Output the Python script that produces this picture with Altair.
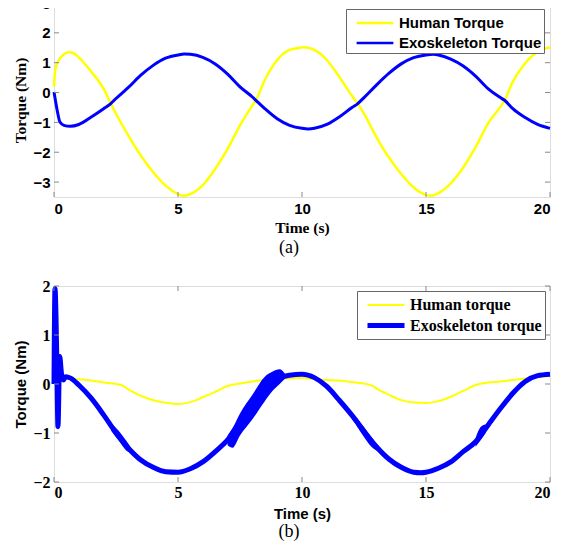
import altair as alt
import pandas as pd

# ---------------- Panel (a) data ----------------
a_human_t = [0, 0.05, 0.2, 0.4, 0.6, 0.8, 1.0, 1.5, 2.0, 2.29, 2.5, 3.0, 3.5, 4.0, 4.5, 5.0, 5.2, 5.5,
             6.0, 6.5, 7.0, 7.5, 8.0, 8.14, 8.5, 9.0, 9.5, 10.0, 10.1, 10.5, 11.0, 11.5, 12.0, 12.25,
             12.5, 13.0, 13.5, 14.0, 14.5, 15.0, 15.2, 15.5, 16.0, 16.5, 17.0, 17.5, 18.0, 18.17,
             18.5, 19.0, 19.5, 20.0]
a_human_v = [0.2, 0.75, 1.1, 1.28, 1.35, 1.31, 1.18, 0.7, 0.13, -0.37, -0.71, -1.44, -2.11, -2.67,
             -3.12, -3.40, -3.46, -3.40, -3.10, -2.56, -1.89, -1.10, -0.43, -0.26, 0.42, 1.09, 1.43,
             1.51, 1.52, 1.43, 1.09, 0.53, -0.09, -0.37, -0.71, -1.49, -2.17, -2.73, -3.18, -3.43,
             -3.46, -3.37, -3.04, -2.51, -1.83, -1.04, -0.48, -0.26, 0.36, 0.98, 1.37, 1.51]

a_exo_t = [0, 0.13, 0.24, 0.4, 0.65, 1.0, 1.5, 2.0, 2.29, 2.5, 3.0, 3.5, 4.0, 4.5, 5.0, 5.25, 5.5,
           6.0, 6.5, 7.0, 7.5, 8.0, 8.14, 8.5, 9.0, 9.5, 10.0, 10.25, 10.5, 11.0, 11.5, 12.0, 12.25,
           12.5, 13.0, 13.5, 14.0, 14.5, 15.0, 15.3, 15.5, 16.0, 16.5, 17.0, 17.5, 18.0, 18.17,
           18.5, 19.0, 19.5, 20.0]
a_exo_v = [0.02, -0.6, -0.99, -1.1, -1.13, -1.07, -0.82, -0.54, -0.37, -0.2, 0.17, 0.58, 0.91, 1.15,
           1.26, 1.29, 1.28, 1.18, 0.96, 0.62, 0.19, -0.15, -0.26, -0.54, -0.88, -1.1, -1.2, -1.22,
           -1.2, -1.07, -0.82, -0.51, -0.37, -0.17, 0.25, 0.64, 0.96, 1.17, 1.26, 1.28, 1.26, 1.12,
           0.89, 0.55, 0.13, -0.17, -0.26, -0.54, -0.84, -1.07, -1.2]

# ---------------- Panel (b) data ----------------
b_human_t = [0, 0.67, 1.0, 1.5, 2.0, 2.5, 2.76, 3.0, 3.5, 4.0, 4.5, 5.0, 5.5, 6.0, 6.5, 7.0, 7.5,
             8.0, 8.5, 9.0, 10.0, 10.5, 11.0, 11.5, 12.0, 12.5, 12.85, 13.0, 13.5, 14.0, 14.5, 15.0,
             15.5, 16.0, 16.5, 17.0, 17.5, 18.0, 18.5, 19.0, 19.5, 20.0]
b_human_v = [0.1, 0.1, 0.095, 0.07, 0.03, 0.0, -0.03, -0.11, -0.24, -0.33, -0.38, -0.41, -0.37,
             -0.27, -0.16, -0.04, 0.01, 0.05, 0.08, 0.1, 0.12, 0.1, 0.08, 0.07, 0.04, 0.01, -0.04,
             -0.09, -0.22, -0.33, -0.38, -0.39, -0.35, -0.26, -0.14, -0.02, 0.03, 0.05, 0.08, 0.11,
             0.14, 0.17]

b_exo_t = [0, 0.04, 0.08, 0.11, 0.16, 0.23, 0.3, 0.38, 0.47, 0.67, 1.0, 1.5, 2.0, 2.5, 3.0, 3.5,
           4.0, 4.5, 5.0, 5.5, 6.0, 6.5, 7.0, 7.5, 8.0, 8.5, 9.0, 9.5, 10.0, 10.5, 11.0, 11.5, 12.0,
           12.5, 13.0, 13.5, 14.0, 14.5, 14.8, 15.0, 15.5, 16.0, 16.5, 17.0, 17.5, 18.0, 18.5, 19.0,
           19.5, 20.0]
b_exo_v = [0.0, 1.95, 1.4, 0.56, -0.87, 0.56, 0.22, 0.08, 0.15, 0.12, -0.02, -0.29, -0.63, -1.0,
           -1.31, -1.55, -1.7, -1.79, -1.8, -1.73, -1.59, -1.38, -1.14, -0.8, -0.46, -0.13, 0.1,
           0.18, 0.2, 0.13, -0.05, -0.33, -0.63, -0.97, -1.28, -1.53, -1.7, -1.8, -1.81, -1.8,
           -1.72, -1.59, -1.38, -1.18, -0.84, -0.5, -0.19, 0.05, 0.17, 0.2]

# chattering envelopes of the exoskeleton torque in panel (b)
band_seg = ["s1"] * 4 + ["s2"] * 8 + ["s3"] * 4 + ["s4"] * 3
band_t = [2.3, 2.6, 2.9, 3.1,
          7.0, 7.2, 7.5, 8.0, 8.5, 8.8, 9.1, 9.3,
          12.2, 12.5, 12.8, 13.1,
          17.0, 17.2, 17.4]
band_lo = [-0.95, -1.15, -1.35, -1.4,
           -1.25, -1.3, -1.05, -0.72, -0.35, -0.15, 0.0, 0.1,
           -0.85, -1.08, -1.28, -1.38,
           -1.28, -1.15, -1.0]
band_hi = [-0.8, -0.95, -1.15, -1.3,
           -1.05, -0.9, -0.6, -0.22, 0.15, 0.25, 0.3, 0.22,
           -0.68, -0.88, -1.08, -1.27,
           -1.1, -0.88, -0.82]

x_ticks = [0, 5, 10, 15, 20]
a_y_ticks = [-3, -2, -1, 0, 1, 2, 3]
b_y_ticks = [-2, -1, 0, 1, 2]

a_names = ["Human Torque", "Exoskeleton Torque"]
b_names = ["Human torque", "Exoskeleton torque"]
colors = ["#ffff00", "#0000ff"]

W = 496
HA = 194
HB = 196
FRAME = "#888888"

SANS = "Liberation Sans"
SERIF = "Liberation Serif"


def tick_layers(xs, ys, ax_x, ax_y, yvals, h):
    xdf = pd.DataFrame({"tv": x_ticks})
    ydf = pd.DataFrame({"tv": yvals})
    layers = []
    for (y1, y2) in [(h, h - 5), (0, 5)]:
        layers.append(
            alt.Chart(xdf).mark_rule(color=FRAME, strokeWidth=1).encode(
                x=alt.X("tv:Q", scale=xs, axis=ax_x),
                y=alt.value(y1), y2=alt.value(y2)))
    for (x1, x2) in [(0, 5), (W - 5, W)]:
        layers.append(
            alt.Chart(ydf).mark_rule(color=FRAME, strokeWidth=1).encode(
                y=alt.Y("tv:Q", scale=ys, axis=ax_y),
                x=alt.value(x1), x2=alt.value(x2)))
    return layers


# ---------------- Panel (a) ----------------
xsA = alt.Scale(domain=[0, 20], nice=False, zero=False)
ysA = alt.Scale(domain=[-3.5, 3], nice=False, zero=False)
colA = alt.Scale(domain=a_names, range=colors)

axA_x = alt.Axis(values=x_ticks, title="Time (s)", grid=False, ticks=False, domain=False,
                 labelFont=SANS, labelFontWeight="bold", labelFontSize=15, labelColor="black",
                 labelPadding=4, titleFont=SERIF, titleFontWeight="bold", titleFontSize=15.5,
                 titleColor="black", titlePadding=4, format="d")
axA_y = alt.Axis(values=a_y_ticks, title="Torque (Nm)", grid=False, ticks=False, domain=False,
                 labelFont=SANS, labelFontWeight="bold", labelFontSize=15, labelColor="black",
                 labelPadding=4, titleFont=SERIF, titleFontWeight="bold", titleFontSize=15.5,
                 titleColor="black", titlePadding=4, format="d")
legA = alt.Legend(title=None, orient="top-right", offset=6, symbolType="M-1.75,0H1.75",
                  symbolSize=441, symbolStrokeWidth=2.5, labelFont=SANS,
                  labelFontWeight="bold", labelFontSize=15, labelColor="black",
                  strokeColor="#666666", fillColor="white", padding=2, rowPadding=0,
                  labelOffset=12, symbolOffset=15, labelLimit=300)

dfA_h = pd.DataFrame({"t": a_human_t, "v": a_human_v, "series": a_names[0]})
dfA_e = pd.DataFrame({"t": a_exo_t, "v": a_exo_v, "series": a_names[1]})

lineA_h = alt.Chart(dfA_h).mark_line(strokeWidth=2.5, interpolate="monotone").encode(
    x=alt.X("t:Q", scale=xsA, axis=axA_x),
    y=alt.Y("v:Q", scale=ysA, axis=axA_y),
    color=alt.Color("series:N", scale=colA, legend=legA))
lineA_e = alt.Chart(dfA_e).mark_line(strokeWidth=3, interpolate="monotone").encode(
    x=alt.X("t:Q", scale=xsA, axis=axA_x),
    y=alt.Y("v:Q", scale=ysA, axis=axA_y),
    color=alt.Color("series:N", scale=colA, legend=legA))

panelA = alt.layer(lineA_h, lineA_e, *tick_layers(xsA, ysA, axA_x, axA_y, a_y_ticks, HA)).properties(
    width=W, height=HA,
    title=alt.TitleParams("(a)", orient="bottom", font=SERIF, fontSize=18, fontWeight="normal",
                          color="black", offset=3, dx=-13, anchor="middle"))

# ---------------- Panel (b) ----------------
xsB = alt.Scale(domain=[0, 20], nice=False, zero=False)
ysB = alt.Scale(domain=[-2, 2], nice=False, zero=False)
colB = alt.Scale(domain=b_names, range=colors)
swB = alt.Scale(domain=b_names, range=[2, 5])

axB_x = alt.Axis(values=x_ticks, title="Time (s)", grid=False, ticks=False, domain=False,
                 labelFont=SERIF, labelFontWeight="bold", labelFontSize=16, labelColor="black",
                 labelPadding=2, titleFont=SANS, titleFontWeight="bold", titleFontSize=15,
                 titleColor="black", titlePadding=6, format="d")
axB_y = alt.Axis(values=b_y_ticks, title="Torque (Nm)", grid=False, ticks=False, domain=False,
                 labelFont=SERIF, labelFontWeight="bold", labelFontSize=16, labelColor="black",
                 labelPadding=4, titleFont=SANS, titleFontWeight="bold", titleFontSize=15,
                 titleColor="black", titlePadding=4, format="d")
legB = alt.Legend(title=None, orient="top-right", offset=5, symbolType="M-1.85,0H1.85",
                  symbolSize=400, labelFont=SERIF,
                  labelFontWeight="bold", labelFontSize=16, labelColor="black",
                  strokeColor="#666666", fillColor="white", padding=3, rowPadding=0,
                  labelOffset=11.5, symbolOffset=13.5, labelLimit=300)

dfB_h = pd.DataFrame({"t": b_human_t, "v": b_human_v, "series": b_names[0]})
dfB_e = pd.DataFrame({"t": b_exo_t, "v": b_exo_v, "series": b_names[1]})
dfB_band = pd.DataFrame({"t": band_t, "lo": band_lo, "hi": band_hi, "seg": band_seg})

lineB_h = alt.Chart(dfB_h).mark_line(interpolate="monotone").encode(
    x=alt.X("t:Q", scale=xsB, axis=axB_x),
    y=alt.Y("v:Q", scale=ysB, axis=axB_y),
    color=alt.Color("series:N", scale=colB, legend=legB),
    strokeWidth=alt.StrokeWidth("series:N", scale=swB, legend=legB))
lineB_e = alt.Chart(dfB_e).mark_line(interpolate="monotone").encode(
    x=alt.X("t:Q", scale=xsB, axis=axB_x),
    y=alt.Y("v:Q", scale=ysB, axis=axB_y),
    color=alt.Color("series:N", scale=colB, legend=legB),
    strokeWidth=alt.StrokeWidth("series:N", scale=swB, legend=legB))
bandB = alt.Chart(dfB_band).mark_area(color="#0000ff", interpolate="monotone").encode(
    x=alt.X("t:Q", scale=xsB, axis=axB_x),
    y=alt.Y("lo:Q", scale=ysB, axis=axB_y),
    y2="hi:Q",
    detail="seg:N")

panelB = alt.layer(lineB_h, lineB_e, bandB,
                   *tick_layers(xsB, ysB, axB_x, axB_y, b_y_ticks, HB)).properties(
    width=W, height=HB,
    title=alt.TitleParams("(b)", orient="bottom", font=SERIF, fontSize=18, fontWeight="normal",
                          color="black", offset=2, dx=-13, anchor="middle"))

chart = alt.vconcat(panelA, panelB, spacing=20).resolve_scale(
    color="independent", strokeWidth="independent"
).resolve_legend(color="independent", strokeWidth="independent").properties(
    padding={"left": 5, "top": -13, "right": 0, "bottom": 0}
).configure_view(stroke=FRAME, strokeWidth=1).configure(background="white")

chart.save("out.html", embed_options={"renderer": "svg", "actions": False})
